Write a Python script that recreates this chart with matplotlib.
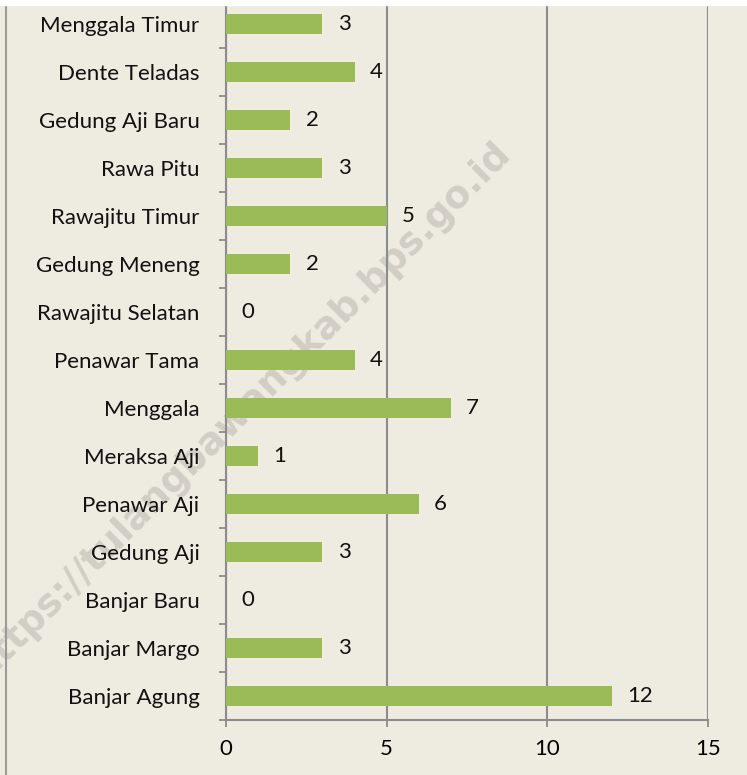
import matplotlib.pyplot as plt
from matplotlib.lines import Line2D
from matplotlib.patches import Rectangle

districts = ['Banjar Agung', 'Banjar Margo', 'Banjar Baru', 'Gedung Aji', 'Penawar Aji',
             'Meraksa Aji', 'Menggala', 'Penawar Tama', 'Rawajitu Selatan', 'Gedung Meneng',
             'Rawajitu Timur', 'Rawa Pitu', 'Gedung Aji Baru', 'Dente Teladas', 'Menggala Timur']
counts = [12, 3, 0, 3, 6, 1, 7, 4, 0, 2, 5, 3, 2, 4, 3]
x_ticks = [0, 5, 10, 15]

bg = '#EEEBE1'
grid_col = '#8C8C8C'
fs = 16
plt.rcParams['font.family'] = ['Lato', 'DejaVu Sans']

W, H = 747, 775
fig = plt.figure(figsize=(W / 100, H / 100), dpi=100, facecolor=bg)
ax = fig.add_axes([226 / W, 1 - 720 / H, (708 - 226) / W, 720 / H])
ax.patch.set_visible(False)
ax.set_zorder(2)

pos = list(range(len(districts)))
bars = ax.barh(pos, counts, height=0.4, color='#9BBB59', zorder=3)
ax.bar_label(bars, labels=[str(c) for c in counts], padding=11, fontsize=fs, color='#111111')

ax.set_xlim(0, 15)
ax.set_ylim(-0.5, len(districts) - 0.5)
ax.set_xticks(x_ticks)
ax.set_xticklabels([str(t) for t in x_ticks], fontsize=fs)
ax.set_yticks(pos)
ax.set_yticklabels(districts, fontsize=fs, color='#111111')
ax.tick_params(axis='y', which='major', length=0, pad=19)
ax.set_yticks([p + 0.5 for p in pos[:-1]] + [-0.5], minor=True)
ax.tick_params(axis='y', which='minor', length=5, width=1.3, color=grid_col, direction='out')
ax.tick_params(axis='x', length=5, width=1.3, color=grid_col, pad=9)

ax.xaxis.grid(True, color=grid_col, linewidth=1.5, zorder=0)
ax.set_axisbelow(True)
for side in ['top', 'right']:
    ax.spines[side].set_visible(False)
for side in ['left', 'bottom']:
    ax.spines[side].set_color(grid_col)
    ax.spines[side].set_linewidth(1.5)

# watermark, sits behind the chart (cut off at the left edge as in the original)
fig.text(242 / W, 1 - 410 / H, 'https://tulangbawangkab.bps.go.id', rotation=45,
         ha='center', va='center', fontsize=27, fontweight='bold', color='#D2CEC5',
         family='DejaVu Sans', zorder=0)

# frame bits from the cropped original
fig.add_artist(Line2D([6 / W, 6 / W], [0, 1 - 5 / H], color='#9A9A9A', linewidth=1.5))
fig.add_artist(Rectangle((0, 1 - 5 / H), 1, 5 / H, color='white', zorder=10))

fig.savefig('out.png', dpi=100, facecolor=bg)
